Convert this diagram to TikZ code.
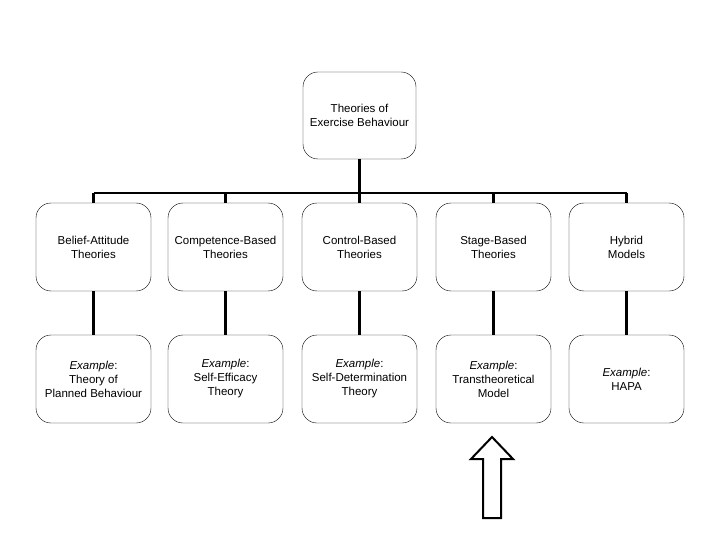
\documentclass[tikz,border=0pt]{standalone}
\usepackage{fontspec}
\setmainfont{Liberation Sans}
\begin{document}
\begin{tikzpicture}[x=1pt,y=-1pt,
  box/.style={draw,thin,rounded corners=15pt,minimum width=115pt,minimum height=88pt,align=center,font=\fontsize{11.5}{14}\selectfont,inner sep=1pt},
  conn/.style={line width=2.5pt}]
\useasboundingbox (0,0) rectangle (720,540);
\node[box,minimum width=113pt,minimum height=87pt] (top) at (359.5,115.5) {Theories of\\Exercise Behaviour};
\foreach \i/\x/\a/\b in {1/93.5/Belief-Attitude/Theories, 2/225.5/Competence-Based/Theories, 3/359.5/Control-Based/Theories, 4/493.5/Stage-Based/Theories, 5/626.5/Hybrid/Models}{
  \node[box] (r\i) at (\x,247) {\a\\\b};
}
\node[box] (e1) at (93.5,379) {\textit{Example}:\\Theory of\\Planned Behaviour};
\node[box] (e2) at (225.5,379) {\textit{Example}:\\Self-Efficacy\\Theory};
\node[box] (e3) at (359.5,379) {\textit{Example}:\\Self-Determination\\Theory};
\node[box] (e4) at (493.5,379) {\textit{Example}:\\Transtheoretical\\Model};
\node[box] (e5) at (626.5,379) {\textit{Example}:\\HAPA};
\coordinate (bl) at (93.5,193);
\coordinate (br) at (626.5,193);
\draw[conn] (bl) -- (br);
\draw[conn] (top.south) -- (top.south |- bl);
\foreach \i in {1,...,5}{
  \draw[conn] (r\i.north |- bl) -- (r\i.north);
  \draw[conn] (r\i.south) -- (e\i.north);
}
\draw[line width=2pt] (483,518) -- (501,518) -- (501,459) -- (513,459) -- (492,437) -- (471,459) -- (483,459) -- cycle;
\end{tikzpicture}
\end{document}
